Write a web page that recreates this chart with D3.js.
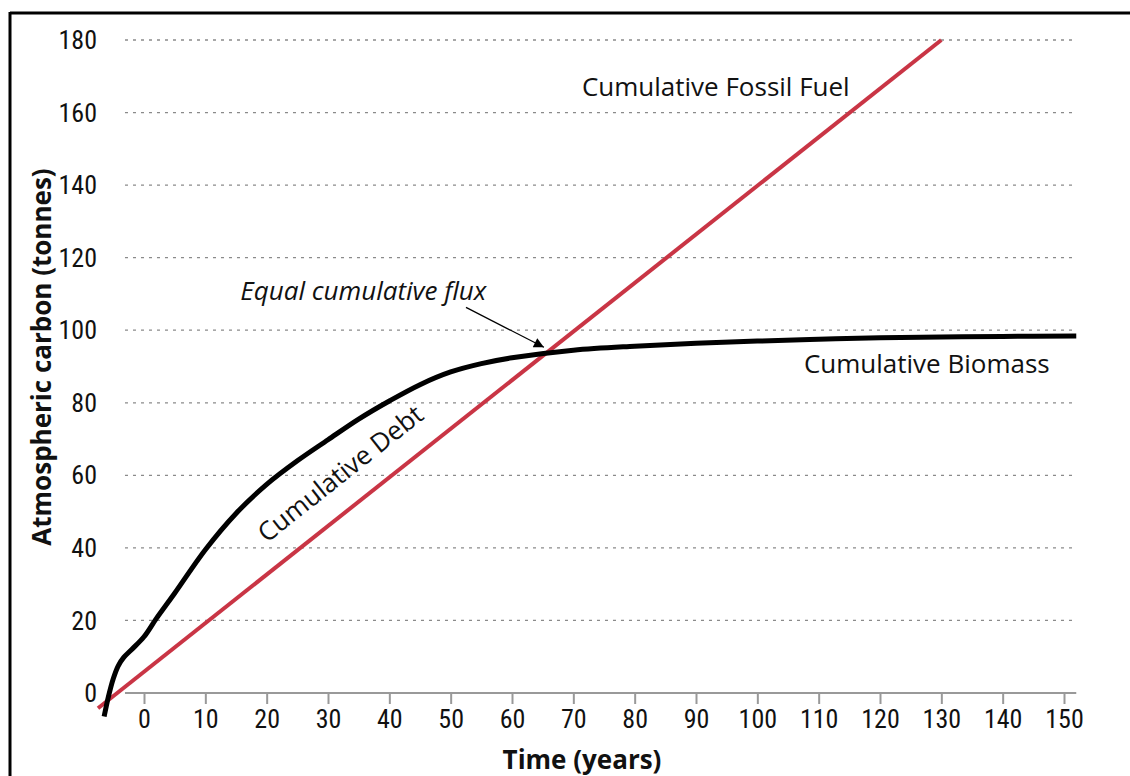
<!DOCTYPE html>
<html><head><meta charset="utf-8">
<script src="https://cdn.jsdelivr.net/npm/d3@7"></script>
<style>
html,body{margin:0;padding:0;background:#fff;}
svg{display:block;}
</style></head>
<body>
<svg id="c" width="1130" height="776"></svg>
<script>
const xTicks = [0,10,20,30,40,50,60,70,80,90,100,110,120,130,140,150];
const yTicks = [0,20,40,60,80,100,120,140,160,180];
const fossilYears = [-7.5, 130];
const fossilValues = [-4.2, 180];
const biomassYears  = [-6.5,-5.8,-5,-4.2,-3.3,-2,0,2,5,10,15,20,25,30,35,40,45,50,55,60,70,80,90,100,110,120,130,140,152];
const biomassValues = [-6.5,-1,4,7.5,9.8,12,15.5,20.5,27.5,39.5,49.5,57.5,64,69.8,75.5,80.5,85,88.5,90.8,92.4,94.5,95.6,96.4,97,97.5,97.9,98.1,98.3,98.4];
const labels = [
  {text:"Cumulative Fossil Fuel", x:71.4, y:164.6, italic:false},
  {text:"Cumulative Biomass", x:107.6, y:88.2, italic:false},
  {text:"Equal cumulative flux", x:15.7, y:108.3, italic:true}
];
const debtLabel = {text:"Cumulative Debt", x:32.0, y:60.5, rot:-38.4};
const arrowFrom = [52.5, 106.3];
const arrowTo = [65.2, 95.3];

const svg = d3.select("#c");
const x = d3.scaleLinear().domain([0,150]).range([144,1064]);
const y = d3.scaleLinear().domain([0,180]).range([693,40]);
const xMin = -3.1, xMax = 152;
const numFont = "'Liberation Sans Narrow','Roboto Condensed','Open Sans',sans-serif";
const txtFont = "'Open Sans','Noto Sans',sans-serif";

// frame
svg.append("line").attr("x1",10).attr("x2",1130).attr("y1",13).attr("y2",13).attr("stroke","#000").attr("stroke-width",3);
svg.append("line").attr("x1",10).attr("x2",10).attr("y1",12).attr("y2",776).attr("stroke","#000").attr("stroke-width",3);

// gridlines
svg.append("g").selectAll("line").data(yTicks.filter(d=>d>0)).join("line")
  .attr("x1",x(xMin)).attr("x2",x(xMax))
  .attr("y1",d=>y(d)).attr("y2",d=>y(d))
  .attr("stroke","#8a8a8a").attr("stroke-width",1.3).attr("stroke-dasharray","3,5");

// y labels
svg.append("g").selectAll("text").data(yTicks).join("text")
  .attr("x",97).attr("y",d=>y(d)).attr("dy","0.35em")
  .attr("text-anchor","end").attr("font-family",numFont).attr("font-size",26).attr("fill","#111")
  .text(d=>d);

// x axis
const xAxis = d3.axisBottom(x).tickValues(xTicks).tickSize(11).tickSizeOuter(0).tickPadding(6);
const gx = svg.append("g").attr("transform",`translate(0,${y(0)})`).call(xAxis);
gx.select(".domain").attr("d",`M${x(xMin)},0H${x(xMax)}`).attr("stroke","#999").attr("stroke-width",2);
gx.selectAll(".tick line").attr("stroke","#999").attr("stroke-width",2);
gx.selectAll(".tick text").attr("font-family",numFont).attr("font-size",26).attr("fill","#111");

// axis titles
svg.append("text").attr("x",582).attr("y",769).attr("text-anchor","middle")
  .attr("font-family",txtFont).attr("font-weight","bold").attr("font-size",26).attr("fill","#111")
  .text("Time (years)");
svg.append("text").attr("transform",`translate(51,${357}) rotate(-90)`).attr("text-anchor","middle")
  .attr("font-family",txtFont).attr("font-weight","bold").attr("font-size",26).attr("fill","#111")
  .text("Atmospheric carbon (tonnes)");

// lines
const line = d3.line().x(d=>x(d[0])).y(d=>y(d[1]));
svg.append("path").datum(d3.zip(fossilYears,fossilValues))
  .attr("d",line).attr("fill","none").attr("stroke","#c93545").attr("stroke-width",4);
svg.append("path").datum(d3.zip(biomassYears,biomassValues))
  .attr("d",line.curve(d3.curveCatmullRom)).attr("fill","none").attr("stroke","#000").attr("stroke-width",5).attr("stroke-linecap","butt");

// labels
svg.append("g").selectAll("text").data(labels).join("text")
  .attr("x",d=>x(d.x)).attr("y",d=>y(d.y))
  .attr("font-family",txtFont).attr("font-size",26).attr("fill","#111")
  .attr("font-style",d=>d.italic?"italic":"normal")
  .text(d=>d.text);
svg.append("text").attr("transform",`translate(${x(debtLabel.x)},${y(debtLabel.y)}) rotate(${debtLabel.rot})`)
  .attr("text-anchor","middle").attr("dy","0.35em")
  .attr("font-family",txtFont).attr("font-size",26).attr("fill","#111").text(debtLabel.text);

// arrow
const defs = svg.append("defs");
defs.append("marker").attr("id","ah").attr("viewBox","0 0 10 10").attr("refX",10).attr("refY",5)
  .attr("markerWidth",14).attr("markerHeight",10).attr("markerUnits","userSpaceOnUse").attr("orient","auto")
  .append("path").attr("d","M0,0L10,5L0,10z").attr("fill","#000");
svg.append("line").attr("x1",x(arrowFrom[0])).attr("y1",y(arrowFrom[1]))
  .attr("x2",x(arrowTo[0])).attr("y2",y(arrowTo[1]))
  .attr("stroke","#000").attr("stroke-width",1.3).attr("marker-end","url(#ah)");
</script>
</body></html>
